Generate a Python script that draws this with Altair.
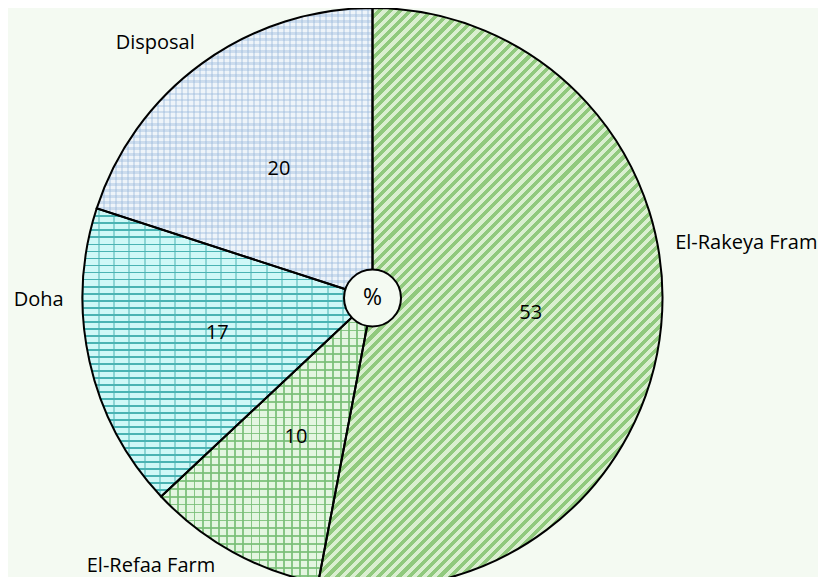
import altair as alt
import pandas as pd

# ---- data ----
categories = ["El-Rakeya Fram", "El-Refaa Farm", "Doha", "Disposal"]
values = [53, 10, 17, 20]
slice_order = [0, 1, 2, 3]
center_label = ["%"]

# ---- style ----
base_colors = ["#daefd0", "#e4f6e1", "#cff8f7", "#eef4f9"]
BG = "#f4faf2"
FONT = "Open Sans"
W, H = 810, 569
CX, CY, R = 364.5, 290, 290
TOTAL = sum(values)

df = pd.DataFrame({"category": categories, "value": values, "order": slice_order})


def stripes(n, on, off, frac, x1, y1, x2, y2):
    stops = []
    for i in range(n):
        a = i / n
        b = (i + frac) / n
        c = (i + 1) / n
        stops += [
            alt.GradientStop(color=on, offset=a),
            alt.GradientStop(color=on, offset=b),
            alt.GradientStop(color=off, offset=b),
            alt.GradientStop(color=off, offset=c),
        ]
    return alt.LinearGradient(gradient="linear", stops=stops, x1=x1, y1=y1, x2=x2, y2=y2)


def base():
    return (
        alt.Chart(df)
        .transform_window(cum="sum(value)", sort=[alt.SortField("order")], frame=[None, 0])
        .transform_calculate(start="datum.cum - datum.value", mid="datum.cum - datum.value / 2")
    )


theta_scale = alt.Scale(domain=[0, TOTAL])
pos = dict(x=alt.value(CX), y=alt.value(CY))

pie = base().mark_arc(radius=R).encode(
    theta=alt.Theta("start:Q", scale=theta_scale),
    theta2="cum:Q",
    color=alt.Color("category:N", scale=alt.Scale(domain=categories, range=base_colors), legend=None),
    **pos,
)

# texture overlays (pattern fills approximated with hard-stop gradients)
T = "rgba(255,255,255,0)"
textures = [
    ("El-Rakeya Fram", stripes(90, "#90c97d", T, 0.5, 0, 0, 0.699, 1.178)),
    ("El-Refaa Farm", stripes(36, "rgba(120,190,118,0.85)", T, 0.22, 0, 0, 0, 1)),
    ("El-Refaa Farm", stripes(26, "rgba(120,190,118,0.85)", T, 0.22, 0, 0, 1, 0)),
    ("Doha", stripes(41, "#4ab3b3", T, 0.26, 0, 0, 0, 1)),
    ("Doha", stripes(19, "rgba(74,179,179,0.5)", T, 0.13, 0, 0, 1, 0)),
    ("Disposal", stripes(48, "rgba(150,182,218,0.38)", T, 0.45, 0, 0, 0, 1)),
    ("Disposal", stripes(46, "rgba(150,182,218,0.38)", T, 0.45, 0, 0, 1, 0)),
]
tex_layers = []
for cat, grad in textures:
    tex_layers.append(
        base().transform_filter(alt.datum.category == cat).mark_arc(radius=R, fill=grad).encode(
            theta=alt.Theta("start:Q", scale=theta_scale), theta2="cum:Q", **pos
        )
    )

outline = base().mark_arc(radius=R, fill="white", fillOpacity=0, stroke="black", strokeWidth=2).encode(
    theta=alt.Theta("start:Q", scale=theta_scale), theta2="cum:Q", **pos
)

inner = base().mark_text(radius=159, fontSize=20, font=FONT, color="black").encode(
    theta=alt.Theta("mid:Q", scale=theta_scale), text=alt.Text("value:Q"), **pos
)

# outer labels: (category, align, dx, dy) offsets from mid-angle point at radius 300
outer_specs = [
    ("El-Rakeya Fram", "left", 4, -83),
    ("El-Refaa Farm", "center", -77, 5),
    ("Doha", "center", -41, -63),
    ("Disposal", "center", -41, -12),
]
outer_layers = []
for cat, al, ddx, ddy in outer_specs:
    outer_layers.append(
        base().transform_filter(alt.datum.category == cat).mark_text(
            radius=300, fontSize=20, font=FONT, color="black",
            align=al, baseline="middle", dx=ddx, dy=ddy).encode(
            theta=alt.Theta("mid:Q", scale=theta_scale), text=alt.Text("category:N"), **pos
        )
    )

cdf = pd.DataFrame({"label": center_label})
circle = alt.Chart(cdf).mark_arc(radius=28.5, theta=0, theta2=6.2832, fill=BG,
                                  stroke="black", strokeWidth=2).encode(**pos)
ctext = alt.Chart(cdf).mark_text(fontSize=23, font=FONT, color="black").encode(text="label:N", **pos)

chart = alt.layer(pie, *tex_layers, outline, inner, *outer_layers, circle, ctext).properties(
    width=W, height=H, background=BG, padding=0,
    autosize=alt.AutoSizeParams(type="none"),
).configure_view(stroke=None)

chart.save("out.html", embed_options={"renderer": "svg", "actions": False})
